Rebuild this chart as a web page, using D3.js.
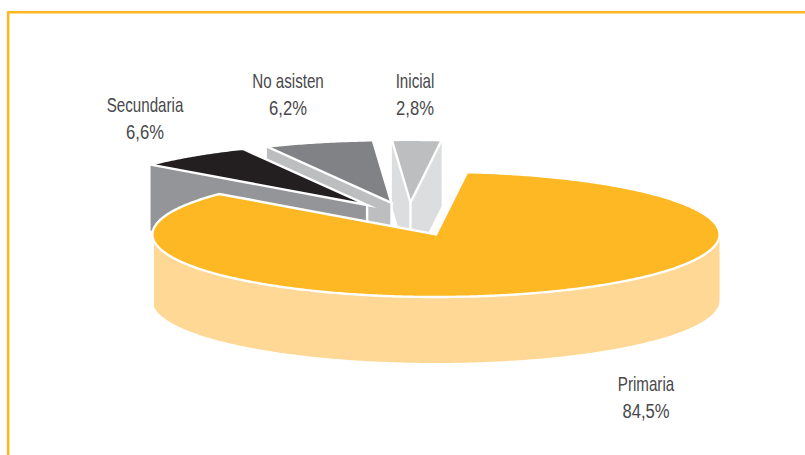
<!DOCTYPE html>
<html>
<head>
<meta charset="utf-8">
<script src="https://cdnjs.cloudflare.com/ajax/libs/d3/7.8.5/d3.min.js"></script>
<style>
  html, body { margin: 0; padding: 0; background: #fff; }
  svg { display: block; }
  text { font-family: "Liberation Sans", sans-serif; font-size: 20.5px; fill: #48484a; text-anchor: middle; }
</style>
</head>
<body>
<svg id="chart" width="805" height="455"></svg>
<script>
// School attendance shares, drawn as an exploded 3D pie
const categories = ["Primaria", "Secundaria", "No asisten", "Inicial"];
const shares = [84.5, 6.6, 6.2, 2.8];

// Colours of the top faces and side walls
const topColors = ["#fdb823", "#231f20", "#808285", "#bcbec0"];
const wallColors = ["#fed894", "#939598", "#bcbec0", "#dcddde"];

// How far each slice is pulled out, in pie radii
const pullX = [0, -0.243, -0.157, -0.09];
const pullY = [0, 0.47, 0.505, 0.51];

// Label anchors, in pixels, for the name line
const labelX = [646, 145, 288, 415];
const labelY = [391, 112, 88, 88];

const width = 805, height = 455, depth = 66;
const svg = d3.select("#chart");

// Unit-circle coordinates projected onto the tilted ellipse
const x = d3.scaleLinear().domain([-1, 1]).range([152.5, 719.5]);
const y = d3.scaleLinear().domain([-1, 1]).range([297, 171.8]);

const pie = d3.pie().sort(null).startAngle(6.3 * Math.PI / 180)
  .endAngle((360 + 6.3) * Math.PI / 180);
const arcs = pie(shares);

const line = d3.line().x(d => d[0]).y(d => d[1]);

function rimPoints(a0, a1, ox, oy) {
  const n = Math.max(2, Math.ceil((a1 - a0) / 0.01));
  return d3.range(n + 1).map(i => {
    const a = a0 + (a1 - a0) * i / n;
    return [x(Math.sin(a) + ox), y(Math.cos(a) + oy)];
  });
}

// Frame rule along the top and left edges
svg.append("path")
  .attr("d", line([[8.2, height], [8.2, 12.2], [width, 12.2]]))
  .attr("fill", "none").attr("stroke", "#fdb823").attr("stroke-width", 2.6);

// Pulled-out slices first, back to front, with the main slice over them
[3, 2, 1].forEach(i => {
  const s = arcs[i];
  const ox = pullX[i], oy = pullY[i];
  const apex = [x(ox), y(oy)];
  const rim = rimPoints(s.startAngle, s.endAngle, ox, oy);
  const g = svg.append("g").attr("class", "slice");
  const wall = (p, q) => line([p, q, [q[0], q[1] + depth], [p[0], p[1] + depth]]) + "Z";
  g.append("path").attr("d", wall(rim[0], apex))
    .attr("fill", wallColors[i]).attr("stroke", "none");
  g.append("path").attr("d", wall(apex, rim[rim.length - 1]))
    .attr("fill", wallColors[i]).attr("stroke", "none");
  g.append("path").attr("d", line([apex, ...rim]) + "Z")
    .attr("fill", topColors[i])
    .attr("stroke", "#fff").attr("stroke-width", 2.4)
    .attr("stroke-linejoin", "miter").attr("stroke-miterlimit", 30);
  // White seam between the two walls
  g.append("path").attr("d", line([apex, [apex[0], apex[1] + depth]]))
    .attr("stroke", "#fff").attr("stroke-width", 2.4);
});

// Main slice: front wall, sitting just inside the left rim, then the top face
const main = arcs[0];
const front = rimPoints(Math.PI / 2, 3 * Math.PI / 2, 0, 0)
  .map(p => [Math.max(p[0], x(-1) + 1.5), p[1]]);
svg.append("path")
  .attr("d", line([...front, ...front.slice().reverse().map(p => [p[0], p[1] + depth])]) + "Z")
  .attr("fill", wallColors[0]);
svg.append("path")
  .attr("d", line([[x(0), y(0)], ...rimPoints(main.startAngle, main.endAngle, 0, 0)]) + "Z")
  .attr("fill", topColors[0])
  .attr("stroke", "#fff").attr("stroke-width", 2.4).attr("stroke-linejoin", "miter");

// Two-line labels: name above, share below with a decimal comma; set condensed
const fmt = d3.formatLocale({ decimal: ",", thousands: ".", grouping: [3], currency: ["", ""] }).format(".1f");
const labels = svg.selectAll("g.label").data(categories).join("g").attr("class", "label")
  .attr("transform", (d, i) => `translate(${labelX[i]},${labelY[i]})`);
labels.append("text").attr("transform", "scale(0.74,1)").text(d => d);
labels.append("text").attr("transform", "translate(0,27) scale(0.81,1)").text((d, i) => fmt(shares[i]) + "%");
</script>
</body>
</html>
